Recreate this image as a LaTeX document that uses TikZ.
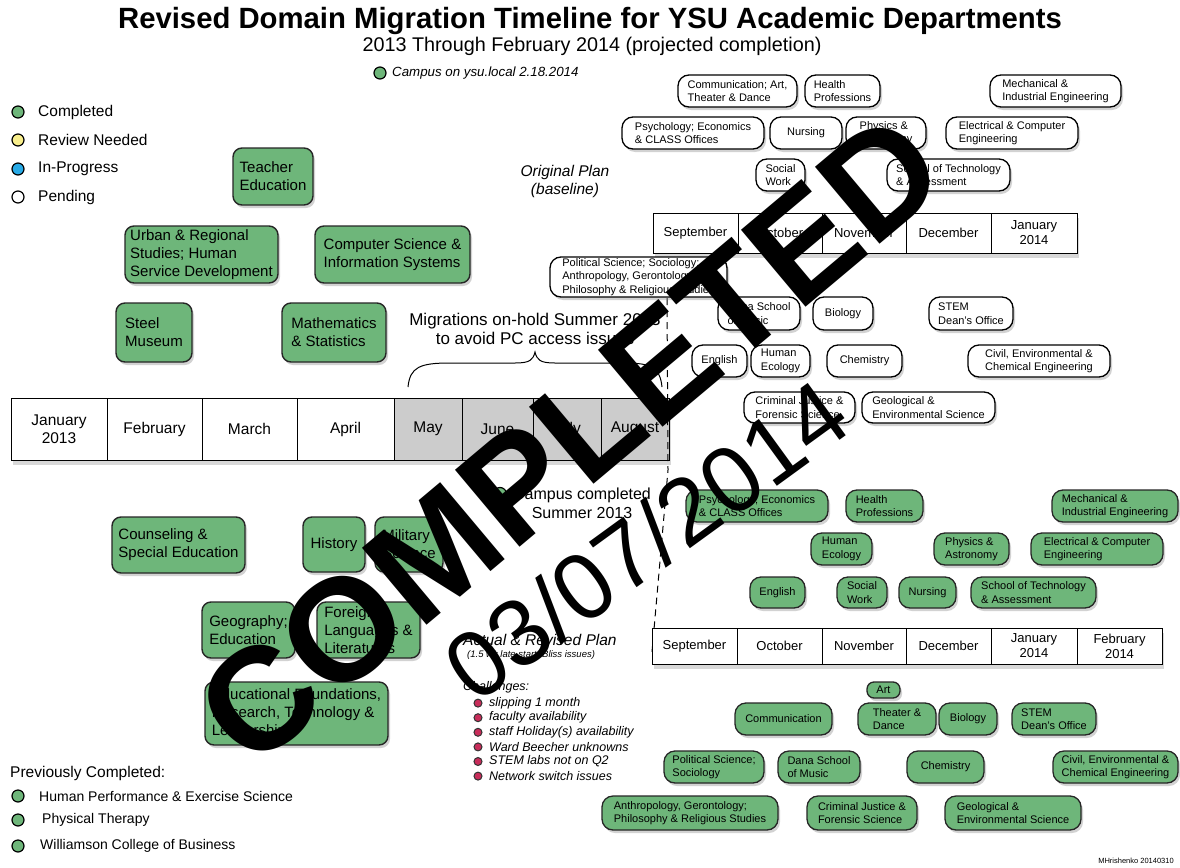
\documentclass[tikz,border=0pt]{standalone}
\usepackage{fontspec}
\setmainfont{Liberation Sans}
\usetikzlibrary{shadows}
\pgfdeclarelayer{bg}
\pgfsetlayers{bg,main}
\definecolor{gfill}{RGB}{110,182,122}
\definecolor{tlgray}{RGB}{204,204,204}
\definecolor{bulletc}{RGB}{200,45,90}
\definecolor{yel}{RGB}{248,238,140}
\definecolor{blu}{RGB}{40,170,230}
\newcommand\fs[2]{\fontsize{#1}{#2}\selectfont}
\newcommand\vl[3]{\begin{pgfonlayer}{bg}\draw[link] (#1,0 |- #2.south) -- (#1,0 |- #3.north);\end{pgfonlayer}}
\begin{document}
\begin{tikzpicture}[x=1pt,y=-1pt,
 shad/.style={drop shadow={shadow xshift=2pt,shadow yshift=-3pt,opacity=0.35}},
 gbox/.style={draw=black!85, line width=1.4pt, fill=gfill, rounded corners=9pt, shad, align=left, inner sep=2pt, font=\fs{15}{18}},
 gsm/.style={draw=black!85, line width=1.3pt, fill=gfill, rounded corners=11pt, shad, align=left, inner sep=1pt, font=\fs{11}{13.5}},
 wsm/.style={draw=black, line width=1.3pt, fill=white, rounded corners=11pt, shad, align=left, inner sep=1pt, font=\fs{11}{13.5}},
 mon/.style={draw=black, line width=1pt, inner sep=0pt, align=center},
 link/.style={draw=black, line width=0.8pt},
 dot/.style={circle, draw=black, line width=1.2pt, minimum size=12pt, inner sep=0pt},
 lab/.style={anchor=west, inner sep=0pt},
]
\useasboundingbox[fill=white] (0,0) rectangle (1180,867);

% ---------- titles ----------
\node (title) at (590,21) {\fs{29.3}{33}\bfseries Revised Domain Migration Timeline for YSU Academic Departments};
\node (subtitle) at (592,46) {\fs{19.8}{22}2013 Through February 2014 (projected completion)};
\node[dot, fill=gfill] (campusdot) at (380,73) {};
\node[lab] (campus) at (392,73) {\fs{13.3}{16}\itshape Campus on ysu.local 2.18.2014};

% ---------- legend ----------
\node[dot, fill=gfill] (lg1) at (18,112) {};
\node[dot, fill=yel] (lg2) at (18,140) {};
\node[dot, fill=blu] (lg3) at (18,169) {};
\node[dot, fill=white] (lg4) at (18,197) {};
\node[lab, font=\fs{15.5}{18}] (lt1) at (38,112) {Completed};
\node[lab, font=\fs{15.5}{18}] (lt2) at (38,140) {Review Needed};
\node[lab, font=\fs{15.5}{18}] (lt3) at (38,169) {In-Progress};
\node[lab, font=\fs{15.5}{18}] (lt4) at (38,197) {Pending};

% ---------- 2013 timeline ----------
\path[fill=white, drop shadow={shadow xshift=2pt,shadow yshift=-5pt,opacity=0.3}] (11,398) rectangle (669,460);
\begin{scope}[every node/.style={mon, minimum height=62, font=\fs{15.5}{18}}]
\node[fill=white, minimum width=96] (jan) at (59,429) {January\\2013};
\node[fill=white, minimum width=95] (feb) at (154.5,429) {February};
\node[fill=white, minimum width=95] (mar) at (249.5,429) {March};
\node[fill=white, minimum width=97] (apr) at (345.5,429) {April};
\node[fill=tlgray, minimum width=68] (may) at (428,429) {May};
\node[fill=tlgray, minimum width=71] (jun) at (497.5,429) {June};
\node[fill=tlgray, minimum width=68] (jul) at (567,429) {July};
\node[fill=tlgray, minimum width=68] (aug) at (635,429) {August};
\end{scope}

\node[gbox, minimum width=80, minimum height=57] (teach) at (273,176.5) {Teacher\\Education};
\node[gbox, minimum width=153, minimum height=57] (urban) at (201.5,254.5) {Urban \& Regional\\Studies; Human\\Service Development};
\node[gbox, minimum width=155, minimum height=57] (cs) at (392.5,254.5) {Computer Science \&\\Information Systems};
\node[gbox, minimum width=76, minimum height=59] (steel) at (154,332.5) {Steel\\Museum};
\node[gbox, minimum width=104, minimum height=59] (math) at (334,332.5) {Mathematics\\\& Statistics};

\node[gbox, minimum width=133, minimum height=56] (couns) at (178.5,545) {Counseling \&\\Special Education};
\node[gbox, minimum width=93, minimum height=56] (geo) at (248.5,630) {Geography;\\Education};
\node[gbox, minimum width=183, minimum height=63] (edf) at (296.5,713.5) {Educational Foundations,\\Research, Technology \&\\Leadership};
\node[gbox, minimum width=62, minimum height=55] (hist) at (334,544.5) {History};
\node[gbox, minimum width=103, minimum height=56] (forl) at (368.5,630) {Foreign\\Languages \&\\Literatures};
\node[gbox, minimum width=68, minimum height=55] (mil) at (409,544.5) {Military\\Science};

\vl{154}{steel}{feb}
\vl{202}{urban}{mar}
\vl{273}{teach}{mar}
\vl{345}{math}{apr}
\vl{393}{cs}{apr}
\vl{178}{feb}{couns}
\vl{250}{mar}{geo}
\vl{298}{mar}{edf}
\vl{345}{apr}{hist}
\vl{369}{apr}{forl}
\vl{409}{may}{mil}

\node[align=center, font=\fs{17}{19}] (hold) at (535,329) {Migrations on-hold Summer 2013\\to avoid PC access issues};
\draw[line width=1pt] (408,387) .. controls (410,367) and (420,363) .. (450,363) -- (515,363) .. controls (530,363) and (533,360) .. (535,352) .. controls (537,360) and (540,363) .. (555,363) -- (625,363) .. controls (652,363) and (660,368) .. (662,387);

\node[dot, fill=gfill, minimum size=13pt] (ccdot) at (500,494) {};
\node[align=center, font=\fs{16}{19}] (cc) at (582,503) {Campus completed\\Summer 2013};

\draw[dashed, line width=1pt, dash pattern=on 7pt off 5pt] (667,298) -- (668,470) -- (652,652);

% ---------- original plan ----------
\node[align=center, font=\fs{15.5}{18}\itshape] (orig) at (565,181) {Original Plan\\(baseline)};

\path[fill=white, drop shadow={shadow xshift=2pt,shadow yshift=-5pt,opacity=0.3}] (653,213) rectangle (1077,253);
\begin{scope}[every node/.style={mon, fill=white, minimum height=40, font=\fs{13}{15}}]
\node[minimum width=85] (wsep) at (695.5,233) {September};
\node[minimum width=84] (woct) at (780,233) {October};
\node[minimum width=84] (wnov) at (864,233) {November};
\node[minimum width=85] (wdec) at (948.5,233) {December};
\node[minimum width=86] (wjan) at (1034,233) {January\\2014};
\end{scope}

\node[wsm, minimum width=119, minimum height=32] (wcomm) at (737.5,91) {Communication; Art,\\Theater \& Dance};
\node[wsm, minimum width=75, minimum height=32] (whealth) at (842.5,91) {Health\\Professions};
\node[wsm, minimum width=131, minimum height=32] (wmech) at (1055.5,91) {Mechanical \&\\Industrial Engineering};
\node[wsm, minimum width=142, minimum height=32] (wpsych) at (693,133) {Psychology; Economics\\\& CLASS Offices};
\node[wsm, minimum width=72, minimum height=32] (wnurs) at (806,133) {Nursing};
\node[wsm, minimum width=80, minimum height=32] (wphys) at (886,133) {Physics \&\\Astronomy};
\node[wsm, minimum width=132, minimum height=32] (welec) at (1012,133) {Electrical \& Computer\\Engineering};
\node[wsm, minimum width=49, minimum height=32] (wsoc) at (780.5,175) {Social\\Work};
\node[wsm, minimum width=123, minimum height=32] (wtech) at (948.5,175) {School of Technology\\\& Assessment};

\vl{695}{wpsych}{wsep}
\vl{738}{wcomm}{wsep}
\vl{779}{wsoc}{woct}
\vl{801}{wnurs}{woct}
\vl{843}{whealth}{wnov}
\vl{886}{wphys}{wnov}
\vl{950}{wtech}{wdec}
\vl{1013}{welec}{wjan}
\vl{1055}{wmech}{wjan}

\node[wsm, minimum width=177, minimum height=40] (wpol) at (638.5,277) {Political Science; Sociology;\\Anthropology, Gerontology;\\Philosophy \& Religious Studies};
\node[wsm, minimum width=82, minimum height=33] (wdana) at (759,313.5) {Dana School\\of Music};
\node[wsm, minimum width=60, minimum height=33] (wbio) at (843,313.5) {Biology};
\node[wsm, minimum width=84, minimum height=33] (wstem) at (971,313.5) {STEM\\Dean's Office};
\node[wsm, minimum width=55, minimum height=32] (weng) at (719.5,361) {English};
\node[wsm, minimum width=59, minimum height=32] (whec) at (780.5,361) {Human\\Ecology};
\node[wsm, minimum width=75, minimum height=32] (wchem) at (864.5,361) {Chemistry};
\node[wsm, minimum width=142, minimum height=32] (wciv) at (1039,361) {Civil, Environmental \&\\Chemical Engineering};
\node[wsm, minimum width=111, minimum height=31] (wcrim) at (799.5,407.5) {Criminal Justice \&\\Forensic Science};
\node[wsm, minimum width=133, minimum height=31] (wgeo) at (928.5,407.5) {Geological \&\\Environmental Science};

\vl{718}{wsep}{weng}
\vl{759}{woct}{wdana}
\vl{780}{woct}{whec}
\vl{800}{woct}{wcrim}
\vl{843}{wnov}{wbio}
\vl{864}{wnov}{wchem}
\vl{928}{wdec}{wgeo}
\vl{971}{wdec}{wstem}
\vl{1035}{wjan}{wciv}

% ---------- actual & revised plan ----------
\path[fill=white, drop shadow={shadow xshift=2pt,shadow yshift=-5pt,opacity=0.3}] (652,628) rectangle (1162,664);
\begin{scope}[every node/.style={mon, fill=white, minimum height=36, font=\fs{13}{15}}]
\node[minimum width=85] (gsep) at (694.5,646) {September};
\node[minimum width=85] (goct) at (779.5,646) {October};
\node[minimum width=84] (gnov) at (864,646) {November};
\node[minimum width=85] (gdec) at (948.5,646) {December};
\node[minimum width=86] (gjan) at (1034,646) {January\\2014};
\node[minimum width=85] (gfeb) at (1119.5,646) {February\\2014};
\end{scope}

\node[gsm, minimum width=142, minimum height=32] (gpsych) at (757,506) {Psychology; Economics\\\& CLASS Offices};
\node[gsm, minimum width=77, minimum height=32] (ghealth) at (884.5,506) {Health\\Professions};
\node[gsm, minimum width=126, minimum height=32] (gmech) at (1115,506) {Mechanical \&\\Industrial Engineering};
\node[gsm, minimum width=61, minimum height=32] (ghec) at (841.5,549) {Human\\Ecology};
\node[gsm, minimum width=75, minimum height=32] (gphys) at (971.5,549) {Physics \&\\Astronomy};
\node[gsm, minimum width=132, minimum height=32] (gelec) at (1097,549) {Electrical \& Computer\\Engineering};
\node[gsm, minimum width=55, minimum height=31] (geng) at (777.5,592.5) {English};
\node[gsm, minimum width=50, minimum height=31] (gsoc) at (862,592.5) {Social\\Work};
\node[gsm, minimum width=57, minimum height=31] (gnurs) at (927.5,592.5) {Nursing};
\node[gsm, minimum width=125, minimum height=31] (gtech) at (1033.5,592.5) {School of Technology\\\& Assessment};

\vl{756}{gpsych}{goct}
\vl{778}{geng}{goct}
\vl{841}{ghec}{gnov}
\vl{862}{gsoc}{gnov}
\vl{884}{ghealth}{gnov}
\vl{927}{gnurs}{gdec}
\vl{969}{gphys}{gdec}
\vl{1033}{gtech}{gjan}
\vl{1097}{gelec}{gfeb}
\vl{1139}{gmech}{gfeb}

\node[gsm, rounded corners=7pt, minimum width=33, minimum height=16] (gart) at (883.5,690) {Art};
\node[gsm, minimum width=97, minimum height=32] (gcomm) at (783.5,719) {Communication};
\node[gsm, minimum width=78, minimum height=32] (gthe) at (897,719) {Theater \&\\Dance};
\node[gsm, minimum width=58, minimum height=32] (gbio) at (968,719) {Biology};
\node[gsm, minimum width=84, minimum height=32] (gstem) at (1054,719) {STEM\\Dean's Office};
\node[gsm, minimum width=100, minimum height=32] (gpol) at (714,767) {Political Science;\\Sociology};
\node[gsm, minimum width=82, minimum height=32] (gdana) at (819,767) {Dana School\\of Music};
\node[gsm, minimum width=77, minimum height=32] (gchem) at (945.5,767) {Chemistry};
\node[gsm, minimum width=125, minimum height=32] (gciv) at (1115.5,767) {Civil, Environmental \&\\Chemical Engineering};
\node[gsm, minimum width=176, minimum height=34] (ganth) at (690,813) {Anthropology, Gerontology;\\Philosophy \& Religious Studies};
\node[gsm, minimum width=110, minimum height=34] (gcrim) at (862,813) {Criminal Justice \&\\Forensic Science};
\node[gsm, minimum width=136, minimum height=34] (ggeo) at (1013,813) {Geological \&\\Environmental Science};

\vl{671}{gsep}{ganth}
\vl{714}{gsep}{gpol}
\vl{799}{goct}{gcomm}
\vl{841}{gnov}{gdana}
\vl{862}{gnov}{gcrim}
\vl{884}{gnov}{gart}
\vl{884}{gart}{gthe}
\vl{948}{gdec}{gchem}
\vl{969}{gdec}{gbio}
\vl{1012}{gjan}{ggeo}
\vl{1054}{gjan}{gstem}
\vl{1118}{gfeb}{gciv}

\node[lab, font=\fs{15.5}{18}\itshape] (actual) at (463,640) {Actual \& Revised Plan};
\node[lab, font=\fs{9.5}{11}\itshape] (late) at (467,655) {(1.5 wk late start, Bliss issues)};
\node[lab, font=\fs{12.5}{15}\itshape] (chal) at (463,687) {Challenges:};
\foreach \t [count=\i] in {slipping 1 month, faculty availability, staff Holiday(s) availability, Ward Beecher unknowns, STEM labs not on Q2, Network switch issues}{
  \node[circle, draw=black!80, line width=1pt, fill=bulletc, minimum width=8pt, minimum height=6pt, inner sep=0pt] (b\i) at (478,{688.5+14.6*\i}) {};
  \node[lab, font=\fs{12.5}{15}\itshape] (bt\i) at (489,{688.5+14.6*\i}) {\t};
}

% ---------- previously completed ----------
\node[lab, font=\fs{15.5}{18}] (prev) at (10,773) {Previously Completed:};
\node[dot, fill=gfill] (p1) at (18,796) {};
\node[dot, fill=gfill] (p2) at (18,820) {};
\node[dot, fill=gfill] (p3) at (18,846) {};
\node[lab, font=\fs{14}{17}] (pt1) at (39,796) {Human Performance \& Exercise Science};
\node[lab, font=\fs{14}{17}] (pt2) at (42,820) {Physical Therapy};
\node[lab, font=\fs{14}{17}] (pt3) at (40,846) {Williamson College of Business};

\node[font=\fs{7.5}{9}] (sig) at (1136,861) {MHrishenko 20140310};

% ---------- stamp ----------
\node[rotate=40, inner sep=0pt, font=\fs{146}{146}\bfseries] (stamp) at (570,439) {COMPLETED};
\node[rotate=36, inner sep=0pt, font=\fs{94}{94}] (stampdate) at (646,540) {03/07/2014};
\end{tikzpicture}
\end{document}
